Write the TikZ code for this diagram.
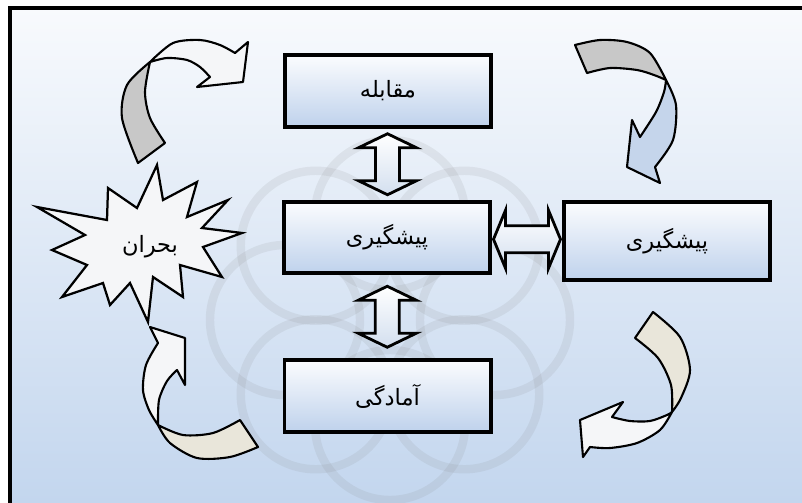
\documentclass[tikz,border=0pt]{standalone}
\usepackage{fontspec}
\newfontfamily\persianfont[Script=Arabic]{DejaVu Sans}
\TeXXeTstate=1
\usetikzlibrary{calc}
\definecolor{bgtop}{HTML}{F8FAFD}
\definecolor{bgbot}{HTML}{C3D6EE}
\definecolor{boxtop}{HTML}{FBFCFE}
\definecolor{boxbot}{HTML}{BFD2EC}
\definecolor{arrowbot}{HTML}{D3DFEF}
\definecolor{backgray}{HTML}{C8C8C8}
\definecolor{backbeige}{HTML}{E9E6DA}
\definecolor{frontblue}{HTML}{C5D5EB}
\definecolor{frontlight}{HTML}{F5F6F8}

\begin{document}
\begin{tikzpicture}[x=0.025cm, y=-0.025cm,
box/.style = {rectangle, draw=black, line width=2.8pt, minimum width=5.15cm, minimum height=1.78cm,
  top color=boxtop, bottom color=boxbot, font=\persianfont\fontsize{16}{18}\selectfont},
twoway/.style = {draw=black, line width=2pt, top color=white, bottom color=arrowbot},
curvearrow/.style = {draw=black, line width=1.5pt, line join=round}]
\useasboundingbox (0,0) rectangle (802,502);
\clip (0,0) rectangle (802,502);
\fill[white] (0,0) rectangle (802,502);
\shade[top color=bgtop, bottom color=bgbot] (10,8) rectangle (802,502);
\draw[line width=2.5pt] (10,510) -- (10,8) -- (810,8);

% watermark
\foreach \a in {0,45,...,315}
  \draw[gray, line width=6pt, opacity=0.12] (390,320) ++(\a:105) circle (75);

\node[box] at (388,91) (conf) {\beginR مقابله\endR};
\node[box] at (387,237.5) (prev) {\beginR پیشگیری\endR};
\node[box, minimum height=1.95cm] at (667,241) (prevr) {\beginR پیشگیری\endR};
\node[box] at (387.5,396) (prep) {\beginR آمادگی\endR};

\draw[line width=1.6pt, fill=frontlight] (37,207) -- (107,220) -- (108,188) -- (137,208) -- (157,165)
  -- (163,200) -- (197,182) -- (187,217) -- (228,200) -- (202,228) -- (242,233) -- (203,247)
  -- (222,277) -- (180,265) -- (183,297) -- (153,277) -- (148,322) -- (130,283) -- (110,305)
  -- (103,283) -- (62,297) -- (87,265) -- (52,250) -- (85,235) -- cycle;
\node[font=\persianfont\fontsize{16}{18}\selectfont] at (150,247) (crisis) {\beginR بحران\endR};

\coordinate (v1) at ($(conf.south)!.5!(prev.north)$);
\coordinate (v2) at ($(prev.south)!.5!(prep.north)$);
\coordinate (h1) at ($(prev.east)!.5!(prevr.west)$);
\draw[twoway] (v1) ++(0,-30.5) -- ++(29,14) -- ++(-17,0) -- ++(0,33) -- ++(17,0) -- ++(-29,14)
  -- ++(-29,-14) -- ++(17,0) -- ++(0,-33) -- ++(-17,0) -- cycle;
\draw[twoway] (v2) ++(0,-30.5) -- ++(29,14) -- ++(-17,0) -- ++(0,33) -- ++(17,0) -- ++(-29,14)
  -- ++(-29,-14) -- ++(17,0) -- ++(0,-33) -- ++(-17,0) -- cycle;
\draw[twoway] (h1) ++(-33.5,0) -- ++(12,-29) -- ++(0,15.5) -- ++(43,0) -- ++(0,-15.5) -- ++(12,29)
  -- ++(-12,29) -- ++(0,-15.5) -- ++(-43,0) -- ++(0,15.5) -- cycle;

% top left
\draw[curvearrow, fill=backgray] plot[smooth] coordinates {(138,163) (122,118) (127,85) (150,62)}
  -- plot[smooth] coordinates {(150,62) (145,92) (150,118) (165,143)} -- cycle;
\draw[curvearrow, fill=frontlight] plot[smooth] coordinates {(150,62) (173,43) (200,40) (220,45) (235,53)}
  -- (248,42) -- (243,82) -- (197,87) -- (210,77)
  -- plot[smooth] coordinates {(210,77) (200,67) (187,60) (167,58) (150,62)} -- cycle;
% top right
\draw[curvearrow, fill=backgray] plot[smooth] coordinates {(575,45) (600,40) (627,42) (650,53) (666,80)}
  -- plot[smooth] coordinates {(666,80) (654,75) (637,70) (610,68) (587,73)} -- cycle;
\draw[curvearrow, fill=frontblue] plot[smooth] coordinates {(666,80) (676,105) (673,140) (655,167)}
  -- (660,183) -- (627,167) -- (632,120) -- (640,137)
  -- plot[smooth] coordinates {(640,137) (656,112) (664,92) (666,80)} -- cycle;
% bottom right
\draw[curvearrow, fill=backbeige] plot[smooth] coordinates {(653,312) (680,337) (690,370) (681,398) (672,412)}
  -- plot[smooth] coordinates {(672,412) (671,385) (658,358) (635,338)} -- cycle;
\draw[curvearrow, fill=frontlight] plot[smooth] coordinates {(672,412) (660,430) (637,443) (610,448) (590,447)}
  -- (583,457) -- (580,420) -- (623,402) -- (612,417)
  -- plot[smooth] coordinates {(612,417) (630,421) (650,421) (667,415) (672,412)} -- cycle;
% bottom left
\draw[curvearrow, fill=frontlight] plot[smooth] coordinates {(158,343) (146,365) (143,390) (149,410) (158,425)}
  -- plot[smooth] coordinates {(158,425) (159,400) (167,381) (177,370)}
  -- (185,385) -- (185,338) -- (150,327) -- cycle;
\draw[curvearrow, fill=backbeige] plot[smooth] coordinates {(158,425) (183,435) (213,433) (240,420)}
  -- (258,447) -- plot[smooth] coordinates {(258,447) (230,457) (197,458) (170,443) (158,425)} -- cycle;
\end{tikzpicture}
\end{document}
